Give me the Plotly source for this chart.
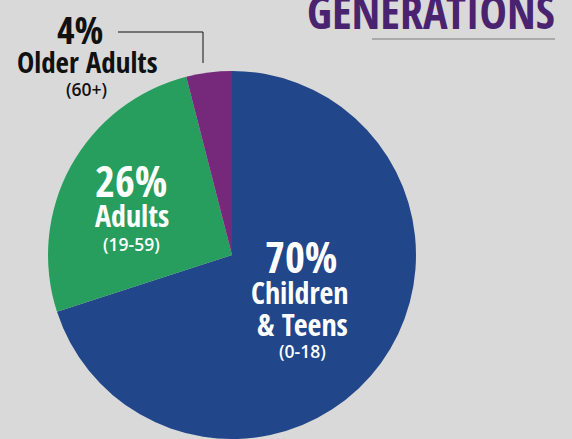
import plotly.graph_objects as go

# Data (clockwise from 12 o'clock)
groups = ["Children & Teens", "Adults", "Older Adults"]
ages = ["(0-18)", "(19-59)", "(60+)"]
shares = [70, 26, 4]
colors = ["#21468A", "#279E5D", "#76297B"]

W, H = 572, 439
BG = "#D9D9D9"
COND = "Open Sans Condensed, DejaVu Sans Condensed, sans-serif"
SANS = "Open Sans, Liberation Sans, sans-serif"


def px(x):
    return x / W


def py(y):
    return 1 - y / H


fig = go.Figure()
fig.add_trace(go.Pie(
    labels=groups,
    values=shares,
    marker=dict(colors=colors, line=dict(width=0)),
    sort=False,
    direction="clockwise",
    rotation=0,
    textinfo="none",
    hoverinfo="label+percent",
    showlegend=False,
    domain=dict(x=[px(48), px(416)], y=[py(439), py(71)]),
))

ann = []


def add(text, x, y, size, color, family=COND, weight=700):
    ann.append(dict(text=text, x=px(x), y=py(y), xref="paper", yref="paper",
                    xanchor="center", yanchor="middle", showarrow=False,
                    font=dict(size=size, color=color, family=family, weight=weight)))


# Older adults (outside)
add(f"{shares[2]}%", 80, 29, 38, "#111111")
add(groups[2], 87, 62, 29, "#111111")
add(ages[2], 86.5, 89, 17.5, "#111111", family=SANS, weight=600)
# Adults
add(f"{shares[1]}%", 131, 181, 43, "#FFFFFF")
add(groups[1], 132, 215, 30, "#FFFFFF")
add(ages[1], 131.5, 244, 17.5, "#FFFFFF", family=SANS, weight=600)
# Children & Teens
add(f"{shares[0]}%", 301, 256, 43, "#FFFFFF")
add("Children", 300, 292, 30, "#FFFFFF")
add("&amp; Teens", 302, 324, 30, "#FFFFFF")
add(ages[0], 302, 351, 17.5, "#FFFFFF", family=SANS, weight=600)

# Title
add("GENERATIONS", 431, 11, 46, "#4A2370")

shapes = [
    dict(type="line", xref="paper", yref="paper", x0=px(118), y0=py(32),
         x1=px(203), y1=py(32), line=dict(color="#111111", width=1)),
    dict(type="line", xref="paper", yref="paper", x0=px(203), y0=py(32),
         x1=px(203), y1=py(63), line=dict(color="#111111", width=1)),
    dict(type="line", xref="paper", yref="paper", x0=px(372), y0=py(39),
         x1=px(555), y1=py(39), line=dict(color="#9A9A9A", width=1.5)),
]

fig.update_layout(
    width=W, height=H,
    margin=dict(l=0, r=0, t=0, b=0),
    paper_bgcolor=BG, plot_bgcolor=BG,
    annotations=ann, shapes=shapes,
)

fig.write_html("out.html", config={"displayModeBar": False},
               post_script="document.body.style.margin='0';")
